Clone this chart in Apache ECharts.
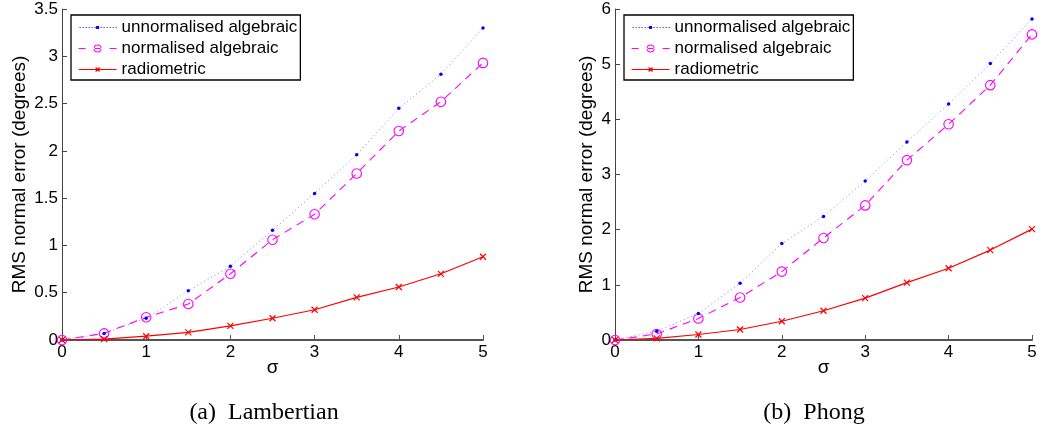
<!DOCTYPE html>
<html>
<head>
<meta charset="utf-8">
<script src="https://cdn.jsdelivr.net/npm/echarts@6/dist/echarts.min.js"></script>
<style>
  html, body { margin: 0; padding: 0; background: #fff; }
  #chart { width: 1046px; height: 434px; }
</style>
</head>
<body>
<div id="chart"></div>
<script>
// Noise level sigma on the horizontal axis
const sigma = [0, 0.5, 1, 1.5, 2, 2.5, 3, 3.5, 4, 4.5, 5];

// (a) Lambertian surface: RMS normal error in degrees
const lambUnnorm = [0, 0.07, 0.23, 0.52, 0.78, 1.16, 1.55, 1.96, 2.45, 2.81, 3.30];
const lambNorm   = [0, 0.07, 0.24, 0.38, 0.70, 1.06, 1.33, 1.76, 2.21, 2.52, 2.93];
const lambRadio  = [0, 0.01, 0.04, 0.08, 0.15, 0.23, 0.32, 0.45, 0.56, 0.70, 0.88];

// (b) Phong surface: RMS normal error in degrees
const phongUnnorm = [0, 0.16, 0.48, 1.03, 1.75, 2.24, 2.88, 3.59, 4.28, 5.01, 5.82];
const phongNorm   = [0, 0.11, 0.39, 0.77, 1.24, 1.85, 2.44, 3.26, 3.91, 4.62, 5.54];
const phongRadio  = [0, 0.03, 0.10, 0.19, 0.34, 0.53, 0.76, 1.04, 1.30, 1.63, 2.01];

const seriesNames = ['unnormalised algebraic', 'normalised algebraic', 'radiometric'];
const captions = ['(a)  Lambertian', '(b)  Phong'];
const yMax = [3.5, 6];
const yStep = [0.5, 1];

const FONT = '"Liberation Sans", Arial, Helvetica, sans-serif';
const SERIF = '"Liberation Serif", "Times New Roman", serif';
const CROSS = 'path://M0,0L10,10M10,0L0,10';

const BLUE = '#0000ff', MAGENTA = '#ff00ff', RED = '#ff0000';

// Legend key glyphs, laid out in a 38 x 12 box (the two leading moves pin the box)
const ICON_W = 38, ICON_H = 12;
const box = `M0,0M${ICON_W},${ICON_H}`;
let dotted = box;
for (let x = 1; x < ICON_W; x += 3) dotted += `M${x},5.5h1v1h-1z`;
dotted += 'M17.5,4.5h3v3h-3z';
const ring = 'M23,6A4,4 0 1,0 15,6A4,4 0 1,0 23,6Z' + 'M22,6A3,3 0 1,1 16,6A3,3 0 1,1 22,6Z';
const dashed = box + 'M0,5.5h7v1h-7z' + 'M15,5.5h8v1h-8z' + 'M31,5.5h7v1h-7z' + ring;
const solidCross = box + 'M0,6L38,6M17,4L21,8M21,4L17,8';

const pair = (ys) => sigma.map((x, i) => [x, ys[i]]);

function makeSeries(idx, un, no, ra) {
  return [
    {
      name: seriesNames[0], type: 'line', xAxisIndex: idx, yAxisIndex: idx,
      data: pair(un), symbol: 'circle', symbolSize: 3.5,
      itemStyle: { color: BLUE },
      lineStyle: { color: '#8080ff', width: 1, type: [1, 3] },
      z: 3
    },
    {
      name: seriesNames[1], type: 'line', xAxisIndex: idx, yAxisIndex: idx,
      data: pair(no), symbol: 'circle', symbolSize: 9.5,
      itemStyle: { color: 'rgba(0,0,0,0)', borderColor: MAGENTA, borderWidth: 1.1 },
      lineStyle: { color: MAGENTA, width: 1.1, type: [8, 6] },
      z: 2
    },
    {
      name: seriesNames[2], type: 'line', xAxisIndex: idx, yAxisIndex: idx,
      data: pair(ra), symbol: CROSS, symbolSize: 6,
      itemStyle: { color: RED, borderColor: RED, borderWidth: 1.2 },
      lineStyle: { color: RED, width: 1.2 },
      z: 4
    }
  ];
}

function xAxis(idx) {
  return {
    type: 'value', gridIndex: idx, min: 0, max: 5, interval: 1,
    name: 'σ', nameLocation: 'middle', nameGap: 18, nameMoveOverlap: false,
    nameTextStyle: { fontFamily: FONT, fontSize: 19, color: '#000' },
    axisLine: { show: true, lineStyle: { color: '#555', width: 2 } },
    axisTick: { show: true, inside: true, length: 5, lineStyle: { color: '#555' } },
    axisLabel: { fontFamily: FONT, fontSize: 17, color: '#000', margin: 4 },
    splitLine: { show: false }
  };
}

function yAxis(idx, gap) {
  return {
    type: 'value', gridIndex: idx, min: 0, max: yMax[idx], interval: yStep[idx],
    name: 'RMS normal error (degrees)', nameLocation: 'middle', nameGap: gap,
    nameTextStyle: { fontFamily: FONT, fontSize: 19, color: '#000' },
    axisLine: { show: true, lineStyle: { color: '#444', width: 1 } },
    axisTick: { show: true, inside: true, length: 5, lineStyle: { color: '#444' } },
    axisLabel: { fontFamily: FONT, fontSize: 17, color: '#000', margin: 4 },
    splitLine: { show: false }
  };
}

function legend(left) {
  return {
    left: left, top: 15, orient: 'vertical',
    data: [
      { name: seriesNames[0], icon: 'path://' + dotted, itemStyle: { color: BLUE, borderWidth: 0 } },
      { name: seriesNames[1], icon: 'path://' + dashed, itemStyle: { color: MAGENTA, borderWidth: 0 } },
      { name: seriesNames[2], icon: 'path://' + solidCross, itemStyle: { color: RED, borderColor: RED, borderWidth: 1.2 } }
    ],
    backgroundColor: '#fff', borderColor: '#000', borderWidth: 1.3,
    padding: [4, 3, 2, 7],
    itemWidth: ICON_W, itemHeight: ICON_H, itemGap: 4,
    textStyle: { fontFamily: FONT, fontSize: 17, color: '#000' },
    selectedMode: false
  };
}

const chart = echarts.init(document.getElementById('chart'), null, { renderer: 'canvas' });
chart.setOption({
  backgroundColor: '#fff',
  animation: false,
  grid: [
    { left: 62, top: 9, width: 421, height: 331 },
    { left: 615, top: 9, width: 417, height: 331 }
  ],
  xAxis: [xAxis(0), xAxis(1)],
  yAxis: [yAxis(0, 33), yAxis(1, 19)],
  legend: [legend(71), legend(624)],
  series: [
    ...makeSeries(0, lambUnnorm, lambNorm, lambRadio),
    ...makeSeries(1, phongUnnorm, phongNorm, phongRadio)
  ],
  graphic: [
    { type: 'text', x: 264, y: 401, style: { text: captions[0], font: '24px ' + SERIF, fill: '#000', align: 'center', verticalAlign: 'top' } },
    { type: 'text', x: 814, y: 401, style: { text: captions[1], font: '24px ' + SERIF, fill: '#000', align: 'center', verticalAlign: 'top' } }
  ]
});
</script>
</body>
</html>
